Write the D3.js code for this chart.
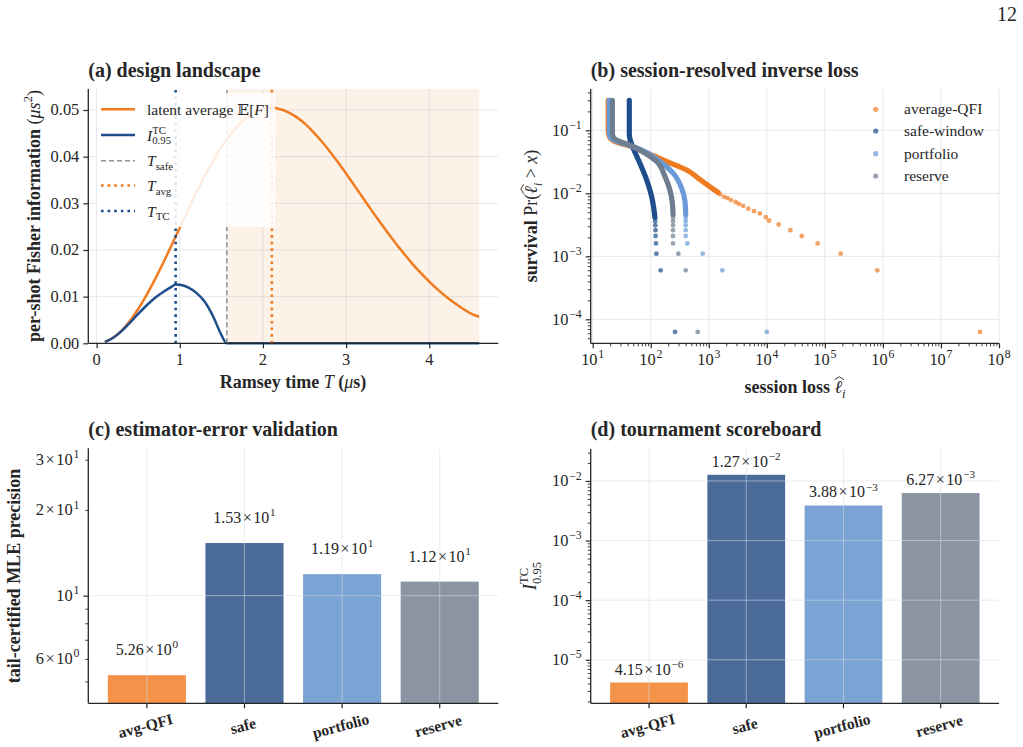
<!DOCTYPE html>
<html>
<head>
<meta charset="utf-8">
<script src="https://cdn.jsdelivr.net/npm/d3@7"></script>
<style>
  body { margin: 0; background: #fff; }
  svg { display: block; font-family: "Liberation Serif", "DejaVu Serif", serif; }
  text { white-space: pre; }
</style>
</head>
<body>
<svg id="fig" width="1023" height="747"></svg>
<script>
// ---------- data ----------

// (a) design landscape
const rampT = [0.1,0.2,0.3,0.4,0.5,0.6,0.7,0.8,0.9,1.0,1.1,1.2,1.3,1.4,1.5,1.6,1.7,1.8,1.9,2.0,
  2.1,2.2,2.3,2.4,2.5,2.6,2.7,2.8,2.9,3.0,3.1,3.2,3.3,3.4,3.5,3.6,3.7,3.8,3.9,4.0,4.1,4.2,4.3,4.4,4.5,4.6];
const avgFisher = [0.00031,0.00123,0.00274,0.00480,0.00735,0.01032,0.01364,0.01722,0.02096,0.02478,
  0.02860,0.03231,0.03583,0.03909,0.04201,0.04455,0.04667,0.04834,0.04951,0.05022,
  0.05046,0.05023,0.04957,0.04853,0.04712,0.04539,0.04342,0.04121,0.03884,0.03636,
  0.03380,0.03124,0.02865,0.02614,0.02370,0.02132,0.01912,0.01698,0.01504,0.01323,
  0.01156,0.01005,0.00868,0.00747,0.00638,0.00570];
const tcT = [0.1,0.2,0.3,0.4,0.5,0.6,0.7,0.8,0.9,0.95,1.0,1.1,1.2,1.3,1.4,1.5,1.566,4.6];
const tcFisher = [0.0003,0.0012,0.0026,0.0044,0.0063,0.0081,0.0097,0.0110,0.0121,0.01262,0.01255,
  0.0120,0.0108,0.0089,0.0058,0.0018,0,0];
const T_TC = 0.95, T_SAFE = 1.566, T_AVG = 2.107, T_END = 4.6;
const tTicks = [0, 1, 2, 3, 4];
const fTicks = [0, 0.01, 0.02, 0.03, 0.04, 0.05];

// (b) survival of session loss: dense body of each scatter, then its sparse tail points
const lossSeries = ["average-QFI", "safe-window", "portfolio", "reserve"];
const avgBody = [[18.5,0.30],[18.5,0.10],[19.5,0.078],[23,0.068],[30,0.062],[42,0.057],[65,0.049],
  [100,0.041],[188,0.032],[417,0.0234],[708,0.0165],[1200,0.0116],[1450,0.0103]];
const avgTail = [[1560,0.0097],[1830,0.0088],[2100,0.0084],[2400,0.0078],[2900,0.0073],[3300,0.0068],
  [3900,0.0063],[4800,0.0057],[6000,0.0052],[7600,0.0048],[9600,0.0042],[10900,0.0037],[16000,0.0032],
  [25400,0.0026],[40000,0.0021],[75000,0.0016],[187000,0.0011],[800000,0.0006],[47000000,0.000063]];
const safeBody = [[42.7,0.30],[42.7,0.085],[44,0.072],[50,0.052],[65,0.030],[85,0.0163],[104,0.0088],
  [114,0.0054],[118,0.0041]];
const safeTail = [[119,0.0036],[120,0.0031],[121,0.0026],[121,0.0021],[123,0.0016],[125,0.0011],
  [148,0.0006],[262,0.000063]];
const portBody = [[19.3,0.30],[19.3,0.09],[20.5,0.076],[25,0.068],[44,0.057],[65,0.050],[145,0.0318],
  [245,0.0207],[341,0.0120],[389,0.0074],[400,0.0046]];
const portTail = [[400,0.0041],[400,0.0036],[400,0.0031],[400,0.0026],[400,0.0021],[427,0.0016],
  [785,0.0011],[1710,0.0006],[9950,0.000063]];
const resBody = [[21.8,0.30],[21.8,0.09],[23,0.076],[27,0.069],[44,0.058],[65,0.0485],[127,0.0318],
  [176,0.0184],[214,0.0113],[236,0.0069],[242,0.0046]];
const resTail = [[242,0.0041],[242,0.0036],[242,0.0031],[242,0.0026],[242,0.0021],[242,0.0016],
  [299,0.0011],[400,0.0006],[644,0.000063]];

// (c), (d) bar panels
const policies = ["avg-QFI", "safe", "portfolio", "reserve"];
const mlePrecision = [5.26, 15.3, 11.9, 11.2];
const tcScore = [4.15e-6, 1.27e-2, 3.88e-3, 6.27e-3];

// ---------- styling ----------
const INK = "#262626";
const GRID = "#e4e7ee";
const ORANGE = "#f07c22", NAVY = "#1f4e8c", SKY = "#6a9bd8", SLATE = "#6e7d8f";
const barColors = ["#f4924a", "#4a6a9a", "#7ba3d4", "#8a94a3"];
const scatterColors = [ORANGE, NAVY, SKY, SLATE];

const svg = d3.select("#fig");

// text made of pieces (italic, superscript, subscript, hat), measured as it goes
function rich(parent, x, y, parts, o = {}) {
  const size = o.size || 16;
  const g = parent.append("g")
    .attr("transform", `translate(${x},${y})` + (o.rotate ? ` rotate(${o.rotate})` : ""));
  const inner = g.append("g");
  let cx = 0, stack = null;
  parts.forEach(p => {
    const small = p.sup || p.sub;
    const fs = small ? size * (o.supScale || 0.7) : size;
    const dy = p.sup ? -size * 0.42 : p.sub ? size * 0.25 : 0;
    const t = inner.append("text")
      .attr("x", cx).attr("y", dy)
      .attr("font-size", fs)
      .attr("font-weight", p.w || o.weight || "normal")
      .attr("font-style", p.it ? "italic" : "normal")
      .attr("fill", INK)
      .text(p.s);
    const w = t.node().getComputedTextLength() + (p.pad || 0);
    if (p.hat) {
      inner.append("path")
        .attr("d", `M${cx},${-size * 0.74} L${cx + w / 2 + 1},${-size * 0.9} L${cx + w + 2},${-size * 0.74}`)
        .attr("fill", "none").attr("stroke", INK).attr("stroke-width", 0.9);
    }
    if (p.stack) stack = { x: cx, w };
    else if (stack) { cx = stack.x + Math.max(stack.w, w); stack = null; }
    else cx += w;
  });
  const off = o.anchor === "middle" ? -cx / 2 : o.anchor === "end" ? -cx : 0;
  inner.attr("transform", `translate(${off},0)`);
  return g;
}

const expStr = e => (e < 0 ? "\u2212" : "") + Math.abs(e);
// mantissa, a spaced times sign, then 10 with its exponent
function timesTen(m, e) {
  const parts = [];
  if (m !== null) parts.push({ s: m, pad: 1.5 }, { s: "\u00d7", pad: 1.5 });
  parts.push({ s: "10", pad: 0.8 }, { s: expStr(e), sup: true });
  return parts;
}
function logLabel(v) {
  const e = Math.floor(Math.log10(v) + 1e-9);
  const m = Math.round(v / Math.pow(10, e));
  return timesTen(m === 1 ? null : String(m), e);
}
function sciLabel(v) {
  const [m, e] = v.toExponential(2).split("e");
  return timesTen(m, +e);
}
const isMajor = v => Math.abs(Math.log10(v) - Math.round(Math.log10(v))) < 1e-9;

function spines(g, b) {
  g.append("line").attr("x1", b.l).attr("x2", b.l).attr("y1", b.t).attr("y2", b.b)
    .attr("stroke", INK).attr("stroke-width", 1.3);
  g.append("line").attr("x1", b.l).attr("x2", b.r).attr("y1", b.b).attr("y2", b.b)
    .attr("stroke", INK).attr("stroke-width", 1.3);
}
function leftTicks(g, scale, b, values, size, width) {
  g.append("g").attr("transform", `translate(${b.l},0)`)
    .call(d3.axisLeft(scale).tickValues(values).tickSize(size).tickFormat(""))
    .call(s => s.select(".domain").remove())
    .call(s => s.selectAll("line").attr("stroke", INK).attr("stroke-width", width));
}
function bottomTicks(g, scale, b, values, size, width) {
  g.append("g").attr("transform", `translate(0,${b.b})`)
    .call(d3.axisBottom(scale).tickValues(values).tickSize(size).tickFormat(""))
    .call(s => s.select(".domain").remove())
    .call(s => s.selectAll("line").attr("stroke", INK).attr("stroke-width", width));
}
function gridV(g, xs, b, top) {
  g.append("g").selectAll("line").data(xs).join("line")
    .attr("x1", d => d).attr("x2", d => d).attr("y1", b.t).attr("y2", b.b)
    .attr("stroke", top ? "#d8dde6" : GRID).attr("stroke-opacity", top ? 0.55 : 1).attr("stroke-width", 1);
}
function gridH(g, ys, b, top) {
  g.append("g").selectAll("line").data(ys).join("line")
    .attr("x1", b.l).attr("x2", b.r).attr("y1", d => d).attr("y2", d => d)
    .attr("stroke", top ? "#d8dde6" : GRID).attr("stroke-opacity", top ? 0.55 : 1).attr("stroke-width", 1);
}
function title(x, y, s) {
  svg.append("text").attr("x", x).attr("y", y).attr("font-size", 20).attr("font-weight", "bold")
    .attr("fill", INK).text(s);
}

// page number
svg.append("text").attr("x", 1017).attr("y", 21).attr("text-anchor", "end")
  .attr("font-size", 20).attr("fill", INK).text("12");

// ---------- (a) design landscape ----------
{
  const b = { l: 88.3, r: 498.3, t: 89, b: 343.3 };
  const x = d3.scaleLinear().domain([-0.1, 4.83]).range([b.l, b.r]);
  const y = d3.scaleLinear().domain([0, 0.0545]).range([b.b, b.t]);
  const g = svg.append("g");

  gridV(g, tTicks.map(x), b);
  gridH(g, fTicks.map(y), b);

  g.append("rect").attr("x", x(T_SAFE)).attr("y", b.t)
    .attr("width", x(T_END) - x(T_SAFE)).attr("height", b.b - b.t)
    .attr("fill", ORANGE).attr("fill-opacity", 0.1);

  const line = d3.line().x(d => x(d[0])).y(d => y(d[1])).curve(d3.curveMonotoneX);
  g.append("path").datum(d3.zip(rampT, avgFisher)).attr("d", line)
    .attr("fill", "none").attr("stroke", ORANGE).attr("stroke-width", 2.5);
  g.append("path").datum(d3.zip(tcT, tcFisher)).attr("d", line)
    .attr("fill", "none").attr("stroke", NAVY).attr("stroke-width", 2.5);

  const vlines = [
    { t: T_SAFE, c: "#8c9099", dash: "5,3", w: 1.6 },
    { t: T_AVG, c: ORANGE, dash: "2.6,4", w: 2.6 },
    { t: T_TC, c: NAVY, dash: "2.6,4", w: 2.6 }
  ];
  g.selectAll(".vl").data(vlines).join("line")
    .attr("x1", d => x(d.t)).attr("x2", d => x(d.t)).attr("y1", b.b).attr("y2", b.t)
    .attr("stroke", d => d.c).attr("stroke-width", d => d.w).attr("stroke-dasharray", d => d.dash);

  spines(g, b);
  leftTicks(g, y, b, fTicks, 5, 1.2);
  bottomTicks(g, x, b, tTicks, 5, 1.2);
  fTicks.forEach(v => g.append("text").attr("x", b.l - 9).attr("y", y(v) + 5.5)
    .attr("text-anchor", "end").attr("font-size", 16.4).attr("fill", INK).text(d3.format(".2f")(v)));
  tTicks.forEach(v => g.append("text").attr("x", x(v)).attr("y", 365)
    .attr("text-anchor", "middle").attr("font-size", 16.4).attr("fill", INK).text(v));

  // legend
  g.append("rect").attr("x", 97).attr("y", 93).attr("width", 178).attr("height", 134)
    .attr("fill", "#fff").attr("fill-opacity", 0.86);
  const leg = [
    { parts: [{ s: "latent average " }, { s: "\u{1D53C}" }, { s: "[" }, { s: "F", it: true }, { s: "]" }], c: ORANGE, w: 2.5 },
    { parts: [{ s: "I", it: true }, { s: "TC", sup: true, stack: true }, { s: "0.95", sub: true }], c: NAVY, w: 2.5 },
    { parts: [{ s: "T", it: true }, { s: "safe", sub: true }], c: "#8c9099", dash: "5,3", w: 1.6 },
    { parts: [{ s: "T", it: true }, { s: "avg", sub: true }], c: ORANGE, dash: "2.6,4", w: 2.6 },
    { parts: [{ s: "T", it: true }, { s: "TC", sub: true }], c: NAVY, dash: "2.6,4", w: 2.6 }
  ];
  const rows = [109.3, 135, 160.7, 185.5, 211];
  leg.forEach((d, i) => {
    g.append("line").attr("x1", 101).attr("x2", 135).attr("y1", rows[i]).attr("y2", rows[i])
      .attr("stroke", d.c).attr("stroke-width", d.w).attr("stroke-dasharray", d.dash || null);
    rich(g, 147, rows[i] + 5.5, d.parts, { size: 15.5 });
  });

  title(88.3, 77, "(a) design landscape");
  rich(svg, 293, 388, [{ s: "Ramsey time " }, { s: "T", it: true, w: "normal" }, { s: " (" }, { s: "\u03bc", it: true, w: "normal" }, { s: "s)" }],
    { size: 18, weight: "bold", anchor: "middle" });
  rich(svg, 40, 216, [{ s: "per-shot Fisher information " }, { s: "(", w: "normal" }, { s: "\u03bc", it: true, w: "normal" },
    { s: "s", it: true, w: "normal" }, { s: "2", sup: true, w: "normal" }, { s: ")", w: "normal" }],
    { size: 18, weight: "bold", anchor: "middle", rotate: -90 });
}

// ---------- (b) session-resolved inverse loss ----------
{
  const b = { l: 590.7, r: 999, t: 89, b: 343.3 };
  const x = d3.scaleLog().domain([Math.pow(10, 0.9655), 1e8]).range([b.l, b.r]);
  const y = d3.scaleLog().domain([Math.pow(10, -4.381), Math.pow(10, -0.344)]).range([b.b, b.t]);
  const g = svg.append("g");
  const xAll = x.ticks(), yAll = y.ticks();
  const xMaj = xAll.filter(isMajor), yMaj = yAll.filter(isMajor);

  gridV(g, xMaj.map(x), b);
  gridH(g, yMaj.map(y), b);

  const bodies = [avgBody, safeBody, portBody, resBody];
  const tails = [avgTail, safeTail, portTail, resTail];
  const line = d3.line().x(d => x(d[0])).y(d => y(d[1])).curve(d3.curveMonotoneY);
  lossSeries.forEach((name, i) => {
    g.append("path").datum(bodies[i]).attr("d", line)
      .attr("fill", "none").attr("stroke", scatterColors[i]).attr("stroke-width", 5.2)
      .attr("stroke-linecap", "round").attr("stroke-linejoin", "round");
    g.append("g").selectAll("circle").data(tails[i]).join("circle")
      .attr("cx", d => x(d[0])).attr("cy", d => y(d[1])).attr("r", 2.4)
      .attr("fill", scatterColors[i]).attr("fill-opacity", 0.7);
  });

  spines(g, b);
  leftTicks(g, y, b, yMaj, 5, 1.2);
  leftTicks(g, y, b, yAll.filter(v => !isMajor(v)), 3, 0.9);
  bottomTicks(g, x, b, xMaj, 5, 1.2);
  bottomTicks(g, x, b, xAll.filter(v => !isMajor(v)), 3, 0.9);
  xMaj.forEach(v => rich(g, x(v), 365, logLabel(v), { size: 16.4, anchor: "middle", supScale: 0.72 }));
  yMaj.forEach(v => rich(g, b.l - 9, y(v) + 5.5, logLabel(v), { size: 16.4, anchor: "end", supScale: 0.72 }));

  const rows = [109.3, 131, 153.7, 176];
  lossSeries.forEach((name, i) => {
    g.append("circle").attr("cx", 875.7).attr("cy", rows[i]).attr("r", 2.6)
      .attr("fill", scatterColors[i]).attr("fill-opacity", 0.7);
    g.append("text").attr("x", 904).attr("y", rows[i] + 5).attr("font-size", 15.5)
      .attr("fill", INK).text(name);
  });

  title(590.7, 77, "(b) session-resolved inverse loss");
  rich(svg, 795, 393, [{ s: "session loss " }, { s: "\u2113", it: true, w: "normal", hat: true }, { s: "i", it: true, sub: true, w: "normal" }],
    { size: 18, weight: "bold", anchor: "middle" });
  rich(svg, 537, 216, [{ s: "survival ", w: "bold" }, { s: "Pr(" }, { s: "\u2113", it: true, hat: true }, { s: "i", it: true, sub: true },
    { s: " > " }, { s: "x", it: true }, { s: ")" }], { size: 18, anchor: "middle", rotate: -90 });
}

// ---------- bar panels ----------
function barPanel(b, values, domain) {
  const x = d3.scaleBand().domain(policies).range([b.l, b.r]).paddingInner(0.2).paddingOuter(0.2);
  const y = d3.scaleLog().domain(domain).range([b.b, b.t]);
  const g = svg.append("g");
  const all = y.ticks();
  const maj = all.filter(isMajor);

  g.selectAll("rect").data(values).join("rect")
    .attr("x", (d, i) => x(policies[i])).attr("width", x.bandwidth())
    .attr("y", d => y(d)).attr("height", d => b.b - y(d))
    .attr("fill", (d, i) => barColors[i]);

  gridV(g, policies.map(p => x(p) + x.bandwidth() / 2), b, true);
  gridH(g, maj.map(y), b, true);

  spines(g, b);
  leftTicks(g, y, b, maj, 5, 1.2);
  leftTicks(g, y, b, all.filter(v => !isMajor(v)), 3, 0.9);
  bottomTicks(g, x, b, policies, 5, 1.2);

  return { g, x, y, all };
}

{
  const b = { l: 88.3, r: 498.3, t: 448.3, b: 703.3 };
  const { g, x, y, all } = barPanel(b, mlePrecision, [4.19, 32.9]);
  const labelled = all.filter(v => [6, 10, 20, 30].includes(Math.round(v)));
  labelled.forEach(v => rich(g, b.l - 9, y(v) + 5.5, logLabel(v), { size: 16.4, anchor: "end", supScale: 0.72 }));
  mlePrecision.forEach((v, i) => rich(g, x(policies[i]) + x.bandwidth() / 2, y(v) - 20, sciLabel(v), { anchor: "middle" }));
  policies.forEach(p => rich(g, x(p) + x.bandwidth() / 2, 731, [{ s: p }],
    { size: 15.5, weight: "bold", anchor: "middle", rotate: -15 }));
  title(88.3, 436, "(c) estimator-error validation");
  rich(svg, 20, 576, [{ s: "tail-certified MLE precision" }], { size: 18, weight: "bold", anchor: "middle", rotate: -90 });
}

{
  const b = { l: 590.7, r: 999, t: 449, b: 703.3 };
  const { g, x, y, all } = barPanel(b, tcScore, [1.86e-6, 0.0344]);
  all.filter(isMajor).forEach(v => rich(g, b.l - 9, y(v) + 5.5, logLabel(v), { size: 16.4, anchor: "end", supScale: 0.72 }));
  tcScore.forEach((v, i) => rich(g, x(policies[i]) + x.bandwidth() / 2, y(v) - 8, sciLabel(v), { anchor: "middle" }));
  policies.forEach(p => rich(g, x(p) + x.bandwidth() / 2, 731, [{ s: p }],
    { size: 15.5, weight: "bold", anchor: "middle", rotate: -15 }));
  title(590.7, 436, "(d) tournament scoreboard");
  rich(svg, 536, 576, [{ s: "I", it: true }, { s: "TC", sup: true, stack: true }, { s: "0.95", sub: true }],
    { size: 18, anchor: "middle", rotate: -90 });
}
</script>
</body>
</html>
